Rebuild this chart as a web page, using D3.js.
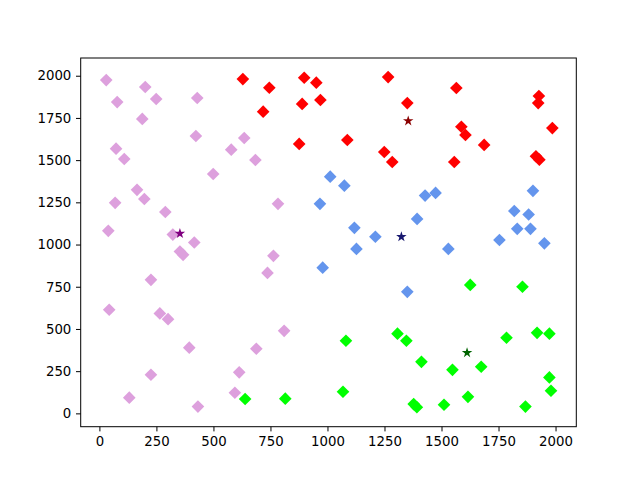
<!DOCTYPE html>
<html>
<head>
<meta charset="utf-8">
<script src="https://cdn.jsdelivr.net/npm/d3@7"></script>
<style>
	body { margin: 0; background: #fff; }
	.tick text { font-family: "DejaVu Sans", sans-serif; font-size: 13.3px; fill: #000; }
</style>
</head>
<body>
<div class="container"></div>
<script>
	"use strict";

	var xTicks = [0, 250, 500, 750, 1000, 1250, 1500, 1750, 2000];
	var yTicks = [0, 250, 500, 750, 1000, 1250, 1500, 1750, 2000];

	// cluster 1 (plum)
	var xPlum = [30, 201, 78, 249, 429, 188, 423, 73, 109, 635, 578, 684, 499, 165, 197, 69, 783, 289, 39,
		322, 416, 353, 367, 763, 737, 226, 43, 265, 301, 810, 394, 688, 226, 613, 131, 594, 432];
	var yPlum = [1974, 1933, 1844, 1862, 1868, 1744, 1643, 1568, 1507, 1631, 1562, 1501, 1418, 1324, 1270, 1247, 1241, 1193, 1081,
		1059, 1012, 959, 939, 933, 832, 791, 614, 592, 558, 489, 389, 383, 229, 243, 93, 122, 40];

	// cluster 2 (red)
	var xRed = [629, 745, 898, 951, 889, 969, 718, 876, 1266, 1565, 1350, 1927, 1924, 1986, 1587, 1605, 1687, 1087, 1249, 1284, 1556, 1914, 1929];
	var yRed = [1980, 1929, 1988, 1959, 1833, 1856, 1787, 1596, 1992, 1927, 1838, 1880, 1838, 1690, 1698, 1649, 1590, 1619, 1548, 1489, 1489, 1523, 1503];

	// cluster 3 (blue)
	var xBlue = [1012, 967, 1074, 1428, 1474, 1901, 1819, 1882, 1393, 1118, 1832, 1890, 1210, 1754, 1951, 1127, 1530, 979, 1350];
	var yBlue = [1402, 1241, 1349, 1290, 1306, 1318, 1199, 1178, 1152, 1099, 1093, 1093, 1046, 1027, 1007, 974, 974, 863, 720];

	// cluster 4 (green)
	var xGreen = [1626, 1855, 1081, 1307, 1346, 1785, 1919, 1973, 1412, 1548, 1674, 1973, 1980, 1068, 1378, 1392, 1511, 1616, 1868, 639, 815];
	var yGreen = [761, 750, 430, 472, 430, 448, 477, 472, 305, 258, 276, 213, 134, 128, 55, 36, 51, 98, 40, 85, 87];

	// centroids
	var xCenters = [353, 1354, 1324, 1612];
	var yCenters = [1065, 1732, 1046, 359];

	var clusterColors = ["plum", "red", "cornflowerblue", "lime"];
	var centerColors = ["purple", "darkred", "midnightblue", "darkgreen"];

	var iWidth = 640, iHeight = 480;
	var margin = { left: 80.7, right: 63.7, top: 58, bottom: 53.3 };

	var oSVG = d3.select(".container").append("svg")
		.attr("width", iWidth)
		.attr("height", iHeight);

	var x = d3.scaleLinear().domain([-82, 2091]).range([margin.left, iWidth - margin.right]);
	var y = d3.scaleLinear().domain([-79, 2105]).range([iHeight - margin.bottom, margin.top]);

	function zip(aX, aY) {
		return aX.map(function(v, i) { return { x: v, y: aY[i] }; });
	}

	var aClusters = [zip(xPlum, yPlum), zip(xRed, yRed), zip(xBlue, yBlue), zip(xGreen, yGreen)];

	var diamond = d3.symbol().type(d3.symbolSquare).size(80)();

	aClusters.forEach(function(aPts, i) {
		oSVG.append("g").selectAll("path")
			.data(aPts)
			.enter()
			.append("path")
			.attr("d", diamond)
			.attr("transform", function(d) {
				return "translate(" + x(d.x) + "," + y(d.y) + ") rotate(45)";
			})
			.style("fill", clusterColors[i]);
	});

	var star = d3.symbol().type(d3.symbolStar).size(34)();

	oSVG.append("g").selectAll("path")
		.data(zip(xCenters, yCenters))
		.enter()
		.append("path")
		.attr("d", star)
		.attr("transform", function(d) {
			return "translate(" + x(d.x) + "," + y(d.y) + ")";
		})
		.style("fill", function(d, i) { return centerColors[i]; });

	var xAxis = oSVG.append("g")
		.attr("transform", "translate(0," + (iHeight - margin.bottom) + ")")
		.call(d3.axisBottom(x).tickValues(xTicks).tickSize(4.7).tickPadding(4.7).tickFormat(d3.format("d")));

	var yAxis = oSVG.append("g")
		.attr("transform", "translate(" + margin.left + ",0)")
		.call(d3.axisLeft(y).tickValues(yTicks).tickSize(4.7).tickPadding(4.7).tickFormat(d3.format("d")));

	[xAxis, yAxis].forEach(function(g) {
		g.select(".domain").remove();
		g.selectAll(".tick line").attr("stroke", "#000").attr("stroke-width", 1);
	});

	oSVG.append("rect")
		.attr("x", margin.left)
		.attr("y", margin.top)
		.attr("width", iWidth - margin.left - margin.right)
		.attr("height", iHeight - margin.top - margin.bottom)
		.attr("fill", "none")
		.attr("stroke", "#000")
		.attr("stroke-width", 1);
</script>
</body>
</html>
